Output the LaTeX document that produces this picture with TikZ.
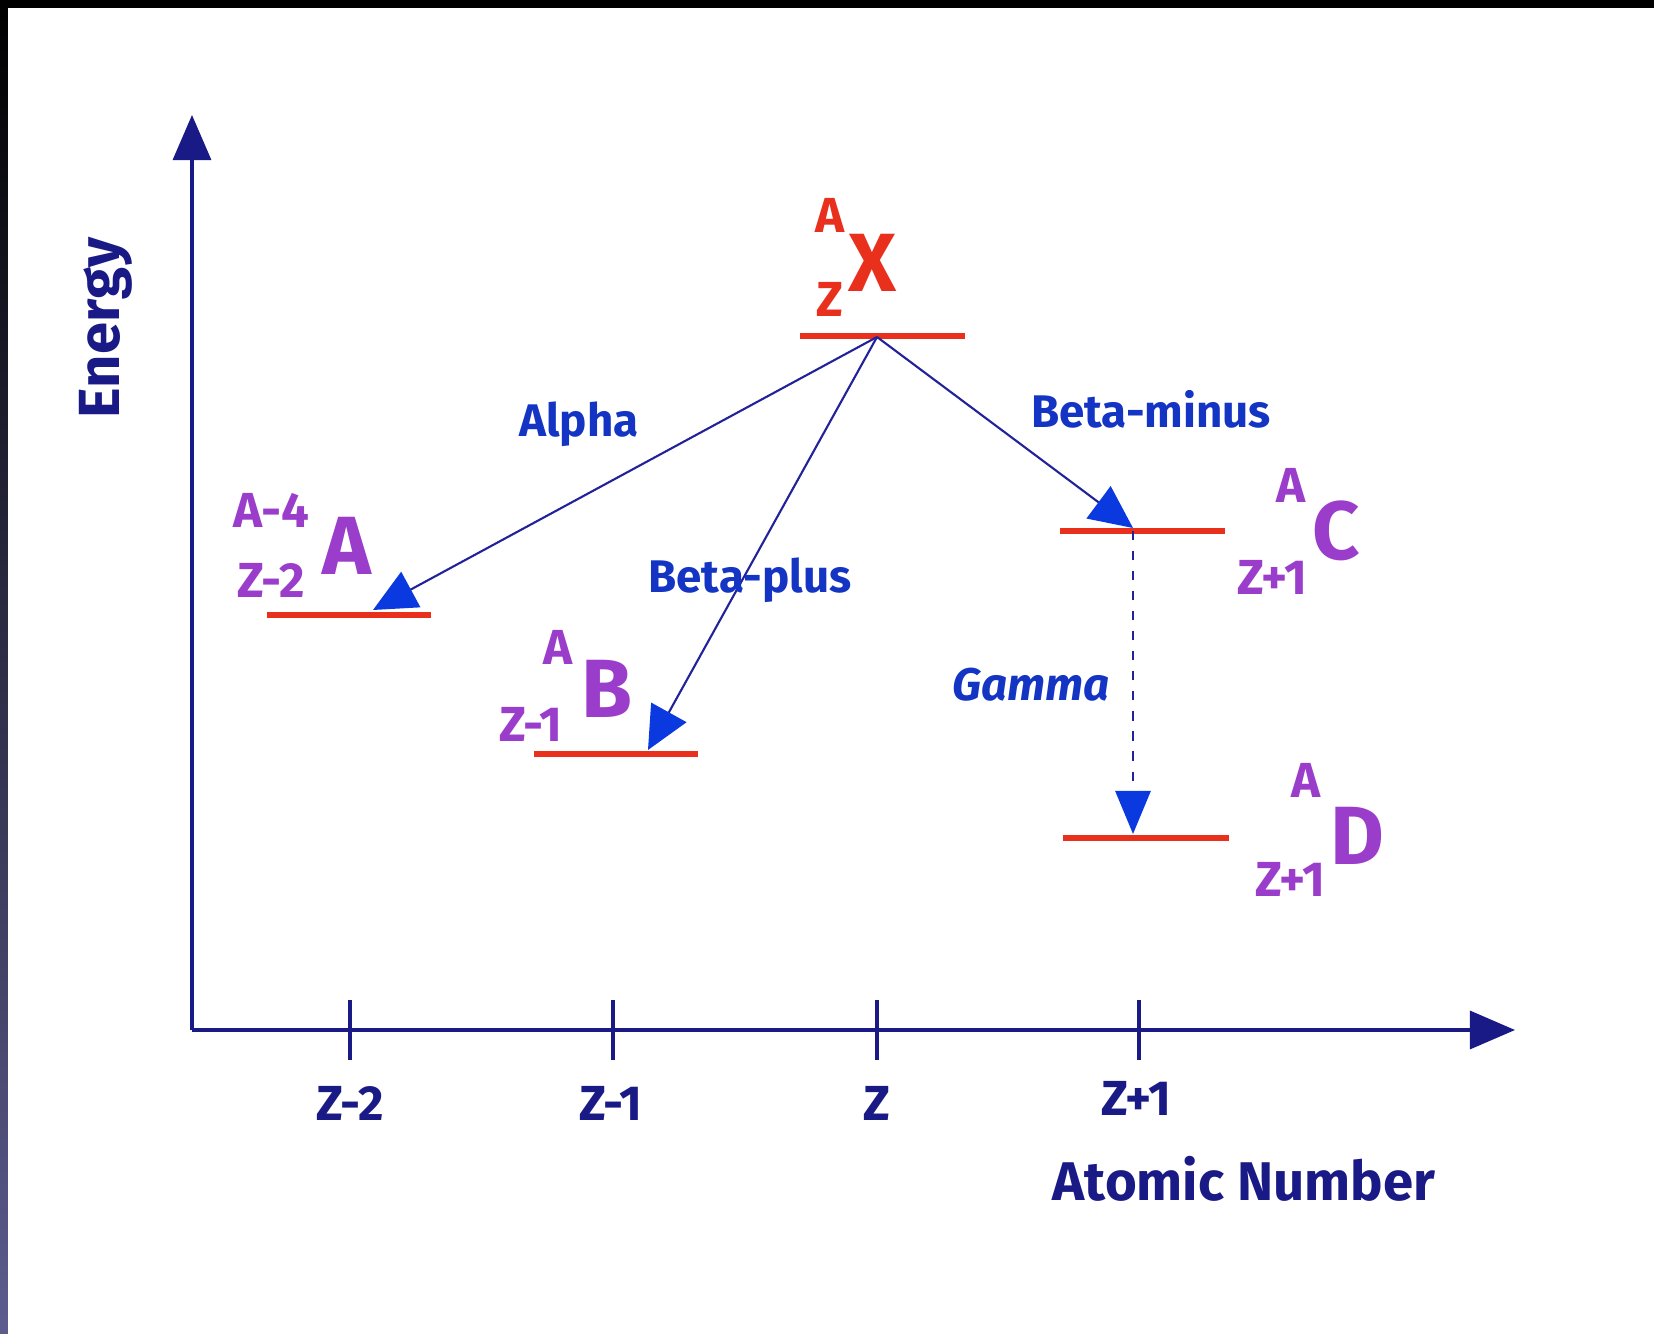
\documentclass[tikz,border=0pt]{standalone}
\usepackage{fontspec}
\setmainfont{Fira Sans}
\usetikzlibrary{arrows.meta}
\definecolor{navy}{HTML}{1A1A86}
\definecolor{lblue}{HTML}{1434C4}
\definecolor{arrline}{HTML}{22229A}
\definecolor{headblue}{HTML}{0A3ADF}
\definecolor{lvred}{HTML}{E8301C}
\definecolor{isopurple}{HTML}{9B3DCB}
\tikzset{
  txt/.style={inner sep=0pt, anchor=base, font=\bfseries\fontsize{14}{16}\selectfont},
  declbl/.style={txt, text=lblue, font=\bfseries\fontsize{13}{15}\selectfont},
  axlbl/.style={txt, text=navy},
  redsmall/.style={txt, text=lvred},
  redbig/.style={txt, text=lvred, font=\bfseries\fontsize{23.5}{26}\selectfont},
  pursmall/.style={txt, text=isopurple},
  purbig/.style={txt, text=isopurple, font=\bfseries\fontsize{23.5}{26}\selectfont},
  level/.style={draw=lvred, line width=1.7pt},
  axisline/.style={draw=navy, line width=0.9pt, -{Triangle[length=4.5mm,width=3.8mm,color=navy]}},
  tickline/.style={draw=navy, line width=0.9pt},
  decay/.style={draw=arrline, line width=0.6pt, -{Triangle[length=4.3mm,width=4mm,color=headblue]}},
  gammaarr/.style={draw=arrline, line width=0.8pt, dash pattern=on 2.6pt off 3.1pt, -{Triangle[length=4.3mm,width=3.5mm,color=headblue]}}
}
\begin{document}
\begin{tikzpicture}[x=0.01cm,y=-0.01cm]
\useasboundingbox (0,0) rectangle (1654,1334);
\fill[black] (0,0) rectangle (1654,1334);
\shade[top color=black, bottom color=black!55!white!80!blue] (0,0) rectangle (8,1334);
\fill[white] (8,8) rectangle (1654,1334);

% axes
\coordinate (orig) at (192,1030);
\coordinate (ytip) at (192,115);
\coordinate (xtip) at (1515,1030);
\draw[axisline] (orig) -- (ytip);
\draw[axisline] (orig) -- (xtip);

% ticks
\foreach \n/\x in {t2/350, t1/613, t0/877, tp/1139}{
  \coordinate (\n top) at (\x,1000);
  \coordinate (\n bot) at (\x,1060);
  \draw[tickline] (\n top) -- (\n bot);
}
\node[axlbl] (lz2) at (350,1120) {Z-2};
\node[axlbl] (lz1) at (611,1120) {Z-1};
\node[axlbl] (lz0) at (877,1120) {Z};
\node[axlbl] (lzp) at (1136,1116) {Z+1};
\node[axlbl, font=\bfseries\fontsize{15.5}{18}\selectfont] (anum) at (1244,1200) {Atomic Number};
\node[axlbl, rotate=90, font=\bfseries\fontsize{16.5}{19}\selectfont] (energy) at (119,328) {Energy};

% levels
\coordinate (xl) at (800,336);  \coordinate (xr) at (965,336);
\coordinate (al) at (267,615);  \coordinate (ar) at (431,615);
\coordinate (bl) at (534,754);  \coordinate (br) at (698,754);
\coordinate (cl) at (1060,531); \coordinate (cr) at (1225,531);
\coordinate (dl) at (1063,838); \coordinate (dr) at (1229,838);
\draw[level] (xl) -- (xr);
\draw[level] (al) -- (ar);
\draw[level] (bl) -- (br);
\draw[level] (cl) -- (cr);
\draw[level] (dl) -- (dr);

% decay arrows
\coordinate (xs) at (877,337);
\coordinate (aT) at (373,610);
\coordinate (bT) at (648,750);
\coordinate (cT) at (1133,528);
\coordinate (cs) at (1133,531);
\coordinate (dT) at (1133,834);
\draw[decay] (xs) -- (aT);
\draw[decay] (xs) -- (bT);
\draw[decay] (xs) -- (cT);
\draw[gammaarr] (cs) -- (dT);

\node[declbl] (alpha) at (579,437) {Alpha};
\node[declbl] (bplus) at (750,593) {Beta-plus};
\node[declbl] (bminus) at (1151,428) {Beta-minus};
\node[declbl, font=\bfseries\itshape\fontsize{13}{15}\selectfont] (gamma) at (1031,701) {Gamma};

% isotope labels
\node[redsmall] (xa) at (830,233) {A};
\node[redsmall] (xz) at (830,317) {Z};
\node[redbig] (xx) at (872,292) {X};

\node[pursmall] (aa) at (271,528) {A-4};
\node[pursmall] (az) at (271,598) {Z-2};
\node[purbig] (aA) at (347,575) {A};

\node[pursmall] (ba) at (558,665) {A};
\node[pursmall] (bz) at (531,742) {Z-1};
\node[purbig] (bB) at (607,718) {B};

\node[pursmall] (ca) at (1291,503) {A};
\node[pursmall] (cz) at (1272,595) {Z+1};
\node[purbig] (cC) at (1336,560) {C};

\node[pursmall] (da) at (1306,798) {A};
\node[pursmall] (dz) at (1290,897) {Z+1};
\node[purbig] (dD) at (1357,865) {D};
\end{tikzpicture}
\end{document}
